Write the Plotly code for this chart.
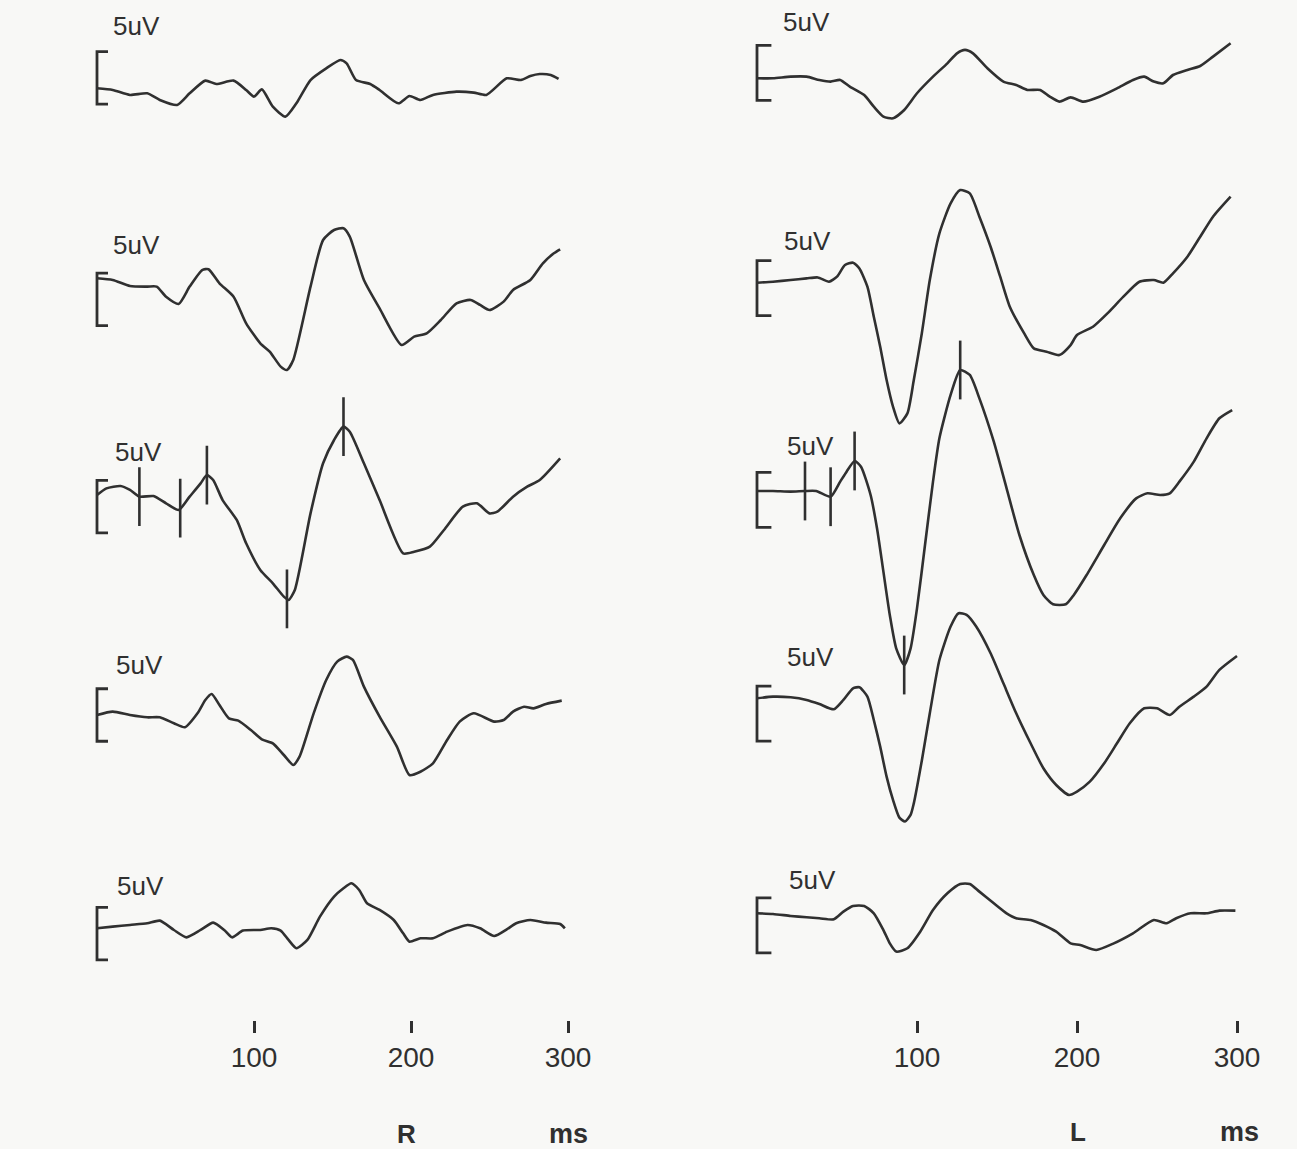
import numpy as np
import plotly.graph_objects as go

# ---------------- data (time in ms, amplitude in uV, up = positive) ----------------
R1_t = [0, 10, 21, 32, 40, 51, 59, 69, 76, 87, 95, 100, 105, 112, 120, 127, 136, 146, 155, 159,
        165, 174, 180, 192, 199, 206, 214, 229, 240, 248, 261, 270, 276, 282, 289, 294]
R1_uv = [0, -0.16, -0.63, -0.48, -1.11, -1.59, -0.48, 0.73, 0.41, 0.73, -0.16, -0.79, -0.10, -1.75, -2.70, -1.43, 0.79, 1.90, 2.70, 2.38,
         0.79, 0.41, -0.16, -1.43, -0.73, -1.11, -0.63, -0.32, -0.41, -0.63, 0.95, 0.79, 1.17, 1.36, 1.27, 0.89]

R2_t = [0, 10, 21, 32, 38, 44, 52, 59, 67, 71, 78, 87, 95, 104, 110, 117, 121, 125, 136, 144,
        151, 157, 161, 170, 180, 194, 202, 210, 219, 229, 238, 244, 250, 259, 265, 276, 284, 291, 295]
R2_uv = [0, -0.16, -0.73, -0.79, -0.79, -1.75, -2.44, -0.79, 0.79, 0.86, -0.48, -1.75, -4.29, -6.19, -6.98, -8.41, -8.73, -7.78, -0.79, 3.65,
         4.60, 4.76, 3.97, -0.16, -2.86, -6.35, -5.56, -5.24, -3.97, -2.38, -2.06, -2.54, -3.02, -2.22, -1.11, -0.16, 1.43, 2.38, 2.76]

R3_t = [0, 6, 15, 21, 27, 36, 44, 52, 59, 66, 70, 74, 80, 89, 95, 104, 112, 119, 122, 126,
        136, 144, 151, 157, 161, 170, 180, 195, 202, 212, 221, 233, 242, 250, 255, 265, 274, 282, 295]
R3_uv = [0, 0.63, 0.86, 0.48, -0.16, -0.10, -0.79, -1.43, -0.16, 1.11, 1.90, 1.43, -0.48, -2.38, -4.60, -7.14, -8.41, -9.68, -10.0, -9.05,
         -1.75, 3.02, 5.24, 6.51, 6.03, 3.02, -0.48, -5.56, -5.40, -4.92, -3.33, -1.11, -0.79, -1.75, -1.59, -0.16, 0.79, 1.43, 3.49]
R3_marks = [27, 53, 70, 121, 157]

R4_t = [0, 10, 21, 32, 40, 49, 56, 64, 69, 73, 78, 84, 90, 98, 105, 112, 119, 125, 129, 138,
        146, 153, 159, 163, 170, 180, 191, 199, 206, 214, 223, 231, 240, 253, 259, 265, 272, 278, 286, 296]
R4_uv = [0, 0.32, 0, -0.22, -0.22, -0.79, -1.17, 0.16, 1.43, 2.0, 0.95, -0.32, -0.54, -1.43, -2.32, -2.70, -3.81, -4.76, -3.97, 0.16,
         3.33, 5.08, 5.56, 5.24, 2.70, -0.16, -3.02, -5.71, -5.40, -4.60, -2.38, -0.63, 0.16, -0.63, -0.48, 0.32, 0.79, 0.63, 1.05, 1.37]

R5_t = [0, 10, 21, 32, 40, 49, 57, 66, 74, 81, 86, 93, 104, 111, 117, 122, 127, 134, 142, 151,
        157, 162, 167, 172, 180, 189, 195, 199, 206, 214, 223, 236, 244, 253, 261, 267, 276, 286, 295, 298]
R5_uv = [0, 0.16, 0.32, 0.48, 0.73, -0.16, -0.86, -0.16, 0.54, -0.16, -0.86, -0.22, -0.16, 0, -0.22, -1.11, -1.90, -1.11, 1.11, 3.02,
         3.81, 4.29, 3.65, 2.38, 1.75, 0.79, -0.48, -1.27, -0.95, -0.95, -0.32, 0.32, 0, -0.73, -0.10, 0.48, 0.79, 0.54, 0.41, 0]

L1_t = [0, 10, 21, 31, 39, 46, 52, 58, 67, 73, 79, 85, 92, 100, 110, 119, 125, 130, 135, 144,
        154, 162, 169, 177, 183, 189, 196, 204, 214, 225, 235, 242, 248, 254, 260, 269, 277, 285, 296]
L1_uv = [0, 0, 0.15, 0.15, -0.15, -0.30, -0.15, -0.76, -1.52, -2.58, -3.48, -3.64, -2.88, -1.36, 0.15, 1.36, 2.27, 2.58, 2.27, 0.91,
         -0.30, -0.61, -1.06, -1.06, -1.67, -2.12, -1.73, -2.12, -1.67, -0.91, -0.15, 0.15, -0.30, -0.45, 0.30, 0.76, 1.12, 1.97, 3.18]

L2_t = [0, 10, 21, 31, 38, 45, 50, 55, 60, 64, 69, 73, 77, 81, 85, 89, 94, 98, 103, 108,
        114, 121, 127, 133, 139, 146, 152, 158, 167, 173, 181, 189, 196, 200, 210, 219, 229, 239, 248, 254,
        260, 269, 277, 285, 296]
L2_uv = [0, 0.09, 0.24, 0.39, 0.48, 0.09, 0.55, 1.61, 1.82, 1.30, -0.36, -3.09, -5.82, -8.85, -11.27, -12.79, -11.88, -8.85, -4.61, 0.24,
         4.48, 7.21, 8.42, 8.12, 6.00, 3.27, 0.55, -2.18, -4.61, -5.97, -6.27, -6.58, -5.67, -4.76, -4.00, -2.79, -1.27, 0.09, 0.24, 0,
         0.85, 2.36, 4.18, 6.00, 7.82]

L3_t = [0, 10, 21, 30, 37, 46, 52, 56, 61, 65, 71, 75, 79, 83, 87, 92, 96, 100, 105, 110,
        114, 121, 127, 133, 139, 148, 156, 164, 173, 179, 185, 193, 198, 206, 217, 227, 237, 244, 252, 258,
        264, 273, 281, 289, 297]
L3_uv = [0, 0, -0.06, 0, 0, -0.52, 0.85, 1.76, 2.73, 2.21, -0.36, -3.39, -7.33, -11.27, -14.30, -15.82, -14.30, -10.67, -4.91, 0.85,
         4.79, 8.73, 11.0, 10.55, 8.42, 4.48, 0.24, -4.0, -7.64, -9.45, -10.30, -10.30, -9.45, -7.64, -4.91, -2.48, -0.67, -0.21, -0.36, -0.21,
         0.85, 2.67, 4.79, 6.61, 7.36]
L3_marks = [30, 46, 61, 92, 127]

L4_t = [0, 10, 21, 31, 39, 48, 54, 60, 64, 69, 73, 77, 81, 85, 89, 92.5, 96, 98, 103, 108,
        114, 121, 126, 131, 137, 146, 154, 162, 171, 179, 187, 195, 200, 208, 217, 225, 233, 242, 250, 258,
        264, 273, 281, 289, 300]
L4_uv = [0, 0.15, 0.09, -0.15, -0.52, -1.0, -0.15, 0.91, 1.0, 0.15, -1.97, -4.39, -7.12, -9.24, -10.85, -11.2, -10.6, -9.55, -5.67, -1.36,
         3.48, 6.52, 7.73, 7.58, 6.52, 4.09, 1.36, -1.36, -4.09, -6.36, -7.88, -8.79, -8.48, -7.58, -5.91, -4.09, -2.27, -0.91, -0.91, -1.52,
         -0.76, 0.15, 1.06, 2.58, 3.85]

L5_t = [0, 10, 21, 31, 39, 48, 54, 60, 67, 73, 79, 83, 87, 94, 102, 110, 119, 127, 133, 139,
        148, 156, 162, 171, 179, 187, 196, 202, 212, 223, 235, 248, 256, 262, 271, 281, 289, 299]
L5_uv = [0, -0.06, -0.24, -0.36, -0.45, -0.55, 0.15, 0.67, 0.67, 0, -1.52, -2.73, -3.48, -3.18, -1.67, 0.30, 1.82, 2.67, 2.67, 1.97,
         0.91, 0, -0.45, -0.61, -1.06, -1.67, -2.73, -2.88, -3.33, -2.73, -1.82, -0.61, -0.91, -0.45, 0, 0, 0.24, 0.24]

SCALE_UV = 5                      # calibration bar, uV
SCALE_LABEL = "5uV"
TICK_VALS = [100, 200, 300]
TICK_TEXT = ["100", "200", "300"]
UNIT_LABEL = "ms"

# ---------------- layout / style ----------------
W, H = 1297, 1149
KX = 1297 / 1289          # small horizontal correction observed in rendering
INK = "#303030"
BG = "#f8f8f6"
FONT = "Liberation Sans, Arial"


def fx(px):
    return min(1.0, px * KX / W)


def fy(py):
    return 1 - py / H


COLUMNS = [
    dict(side="R", x0=97, sx=1.57, sy=10.5, arm=7,
         traces=[(R1_t, R1_uv, None), (R2_t, R2_uv, None), (R3_t, R3_uv, R3_marks),
                 (R4_t, R4_uv, None), (R5_t, R5_uv, None)],
         base=[88.3, 278.3, 495, 715, 928.3],
         bar_top=[3.5, 0.5, 1.4, 2.5, 2.0],
         label_px=[(137, 26), (137, 245), (138, 452), (139, 665), (140, 886)],
         side_px=(406, 1134), unit_px=(569, 1134)),
    dict(side="L", x0=757, sx=1.6, sy=11.0, arm=9,
         traces=[(L1_t, L1_uv, None), (L2_t, L2_uv, None), (L3_t, L3_uv, L3_marks),
                 (L4_t, L4_uv, None), (L5_t, L5_uv, None)],
         base=[78.3, 282.7, 491, 698.3, 913.3],
         bar_top=[3.0, 2.0, 1.7, 1.1, 1.4],
         label_px=[(806, 22), (808, 241), (810, 446), (811, 657), (812, 880)],
         side_px=(1078, 1132), unit_px=(1239, 1132)),
]

fig = go.Figure()
layout = dict(width=W, height=H, margin=dict(l=0, r=0, t=0, b=0),
              paper_bgcolor=BG, plot_bgcolor="rgba(0,0,0,0)", showlegend=False)
annotations = []

idx = 0
for col in COLUMNS:
    x0, sx, sy = col["x0"], col["sx"], col["sy"]
    for r, (t, uv, marks) in enumerate(col["traces"]):
        idx += 1
        suf = "" if idx == 1 else str(idx)
        xa, ya = "x" + suf, "y" + suf
        # waveform
        fig.add_trace(go.Scatter(x=t, y=uv, mode="lines", xaxis=xa, yaxis=ya,
                                 line=dict(color=INK, width=2.6, shape="spline", smoothing=0.6),
                                 hoverinfo="skip"))
        # calibration bracket
        top = col["bar_top"][r]
        arm = col["arm"]
        fig.add_trace(go.Scatter(x=[arm, 0, 0, arm], y=[top, top, top - SCALE_UV, top - SCALE_UV],
                                 mode="lines", xaxis=xa, yaxis=ya,
                                 line=dict(color=INK, width=2.8), hoverinfo="skip"))
        # latency markers
        if marks:
            my = np.interp(marks, t, uv)
            fig.add_trace(go.Scatter(x=marks, y=my, mode="markers", xaxis=xa, yaxis=ya,
                                     marker=dict(symbol="line-ns", size=42,
                                                 line=dict(color=INK, width=2.6)),
                                     hoverinfo="skip"))
        # axes
        base = col["base"][r]
        top_px = max(0.0, base - 16 * sy)
        bot_px = min(float(H), base + 20 * sy)
        xaxis = dict(domain=[fx(x0 - 10 * sx), fx(x0 + 310 * sx)], range=[-10, 310],
                     visible=False, anchor=ya)
        if r == len(col["traces"]) - 1:
            xaxis.update(visible=True, showgrid=False, zeroline=False, showline=False,
                         ticks="outside", tickvals=TICK_VALS, ticktext=TICK_TEXT,
                         ticklen=12, tickwidth=3, tickcolor=INK,
                         tickfont=dict(family=FONT, size=28, color=INK),
                         anchor="free", position=fy(1020))
        layout["xaxis" + suf] = xaxis
        layout["yaxis" + suf] = dict(domain=[fy(bot_px), fy(top_px)],
                                     range=[(base - bot_px) / sy, (base - top_px) / sy],
                                     visible=False, anchor=xa)
        lx, ly = col["label_px"][r]
        annotations.append(dict(text=SCALE_LABEL, x=fx(lx), y=fy(ly), xref="paper", yref="paper",
                                showarrow=False, xanchor="center", yanchor="middle",
                                font=dict(family=FONT, size=26, color=INK)))
    sxp, syp = col["side_px"]
    annotations.append(dict(text="<b>%s</b>" % col["side"], x=fx(sxp), y=fy(syp), xref="paper",
                            yref="paper", showarrow=False, xanchor="center", yanchor="middle",
                            font=dict(family=FONT, size=26, color=INK)))
    uxp, uyp = col["unit_px"]
    annotations.append(dict(text="<b>%s</b>" % UNIT_LABEL, x=fx(uxp), y=fy(uyp), xref="paper",
                            yref="paper", showarrow=False, xanchor="center", yanchor="middle",
                            font=dict(family=FONT, size=27, color=INK)))

layout["annotations"] = annotations
fig.update_layout(**layout)
fig.write_html("out.html", config={"displayModeBar": False},
               post_script="document.body.style.margin='0px';document.body.style.overflow='hidden';")
